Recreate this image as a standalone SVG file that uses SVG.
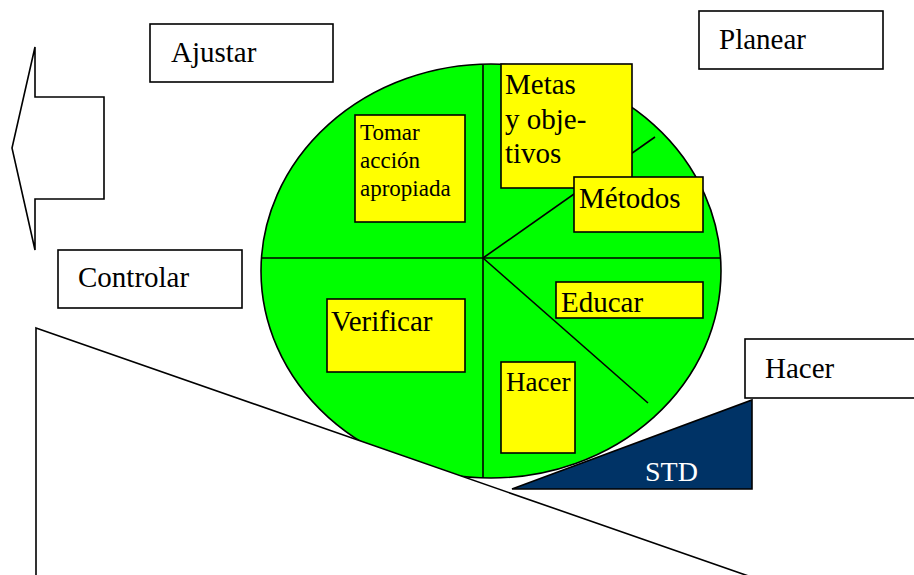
<svg xmlns="http://www.w3.org/2000/svg" width="914" height="575" viewBox="0 0 914 575">
<style>
.box{fill:#ffffff;stroke:#000000;stroke-width:1.6}
.ybox{fill:#ffff00;stroke:#000000;stroke-width:1.6}
.ln{stroke:#000000;stroke-width:1.6;fill:none}
text{font-family:'Liberation Serif','DejaVu Serif','Times New Roman',serif;fill:#000000}
.l{font-size:29px}
.s{font-size:23px}
</style>
<rect width="914" height="575" fill="#ffffff"/>
<g id="ajustar-arrow">
<polygon class="box" points="35,47 35,97 104,97 104,199 35,199 35,250 12,148"/>
</g>
<g id="wheel">
<ellipse cx="491" cy="271" rx="230" ry="207" fill="#00ff00" stroke="#000000" stroke-width="1.6"/>
</g>
<g id="connectors">
<line class="ln" x1="483" y1="65" x2="483" y2="478"/>
<line class="ln" x1="262" y1="258" x2="721" y2="258"/>
<line class="ln" x1="483" y1="258" x2="655" y2="137"/>
<line class="ln" x1="483" y1="258" x2="648" y2="403"/>
</g>
<g id="slope">
<polygon class="box" points="36,328 760,580 36,580"/>
</g>
<g id="labels" font-family="Liberation Serif, DejaVu Serif, serif">
<g id="tomar">
<rect class="ybox" x="355" y="115" width="110" height="107"/>
<text class="s" x="360" y="140" font-family="Liberation Serif, serif">Tomar</text>
<text class="s" x="360" y="168" font-family="Liberation Serif, serif">acción</text>
<text class="s" x="360" y="196" font-family="Liberation Serif, serif">apropiada</text>
</g>
<g id="metas">
<rect class="ybox" x="501" y="64" width="131" height="124"/>
<text class="l" x="505" y="94" font-family="Liberation Serif, serif">Metas</text>
<text class="l" x="505" y="129" font-family="Liberation Serif, serif">y obje-</text>
<text class="l" x="505" y="163" font-family="Liberation Serif, serif">tivos</text>
</g>
<g id="metodos">
<rect class="ybox" x="574" y="177" width="129" height="55"/>
<text class="l" x="579" y="208" font-family="Liberation Serif, serif">Métodos</text>
</g>
<g id="educar">
<rect class="ybox" x="556" y="282" width="147" height="36"/>
<text class="l" x="561" y="312" font-family="Liberation Serif, serif">Educar</text>
</g>
<g id="hacer-inner">
<rect class="ybox" x="501" y="362" width="74" height="91"/>
<text x="506" y="391" font-size="27" font-family="Liberation Serif, serif">Hacer</text>
</g>
<g id="verificar">
<rect class="ybox" x="327" y="299" width="138" height="73"/>
<text class="l" x="331" y="331" font-family="Liberation Serif, serif">Verificar</text>
</g>
<g id="std">
<polygon points="512,489 752,400 752,489" fill="#003366" stroke="#000000" stroke-width="1.6"/>
<text x="645" y="481" style="fill:#ffffff" font-size="28" font-family="Liberation Serif, serif">STD</text>
</g>
<g id="ajustar">
<rect class="box" x="150" y="24" width="183" height="58"/>
<text class="l" x="171" y="62" font-family="Liberation Serif, serif">Ajustar</text>
</g>
<g id="planear">
<rect class="box" x="699" y="11" width="184" height="58"/>
<text class="l" x="719" y="49" font-family="Liberation Serif, serif">Planear</text>
</g>
<g id="controlar">
<rect class="box" x="58" y="250" width="184" height="58"/>
<text class="l" x="78" y="287" font-family="Liberation Serif, serif">Controlar</text>
</g>
<g id="hacer">
<rect class="box" x="745" y="339" width="184" height="59"/>
<text class="l" x="765" y="378" font-family="Liberation Serif, serif">Hacer</text>
</g>
</g>
</svg>
